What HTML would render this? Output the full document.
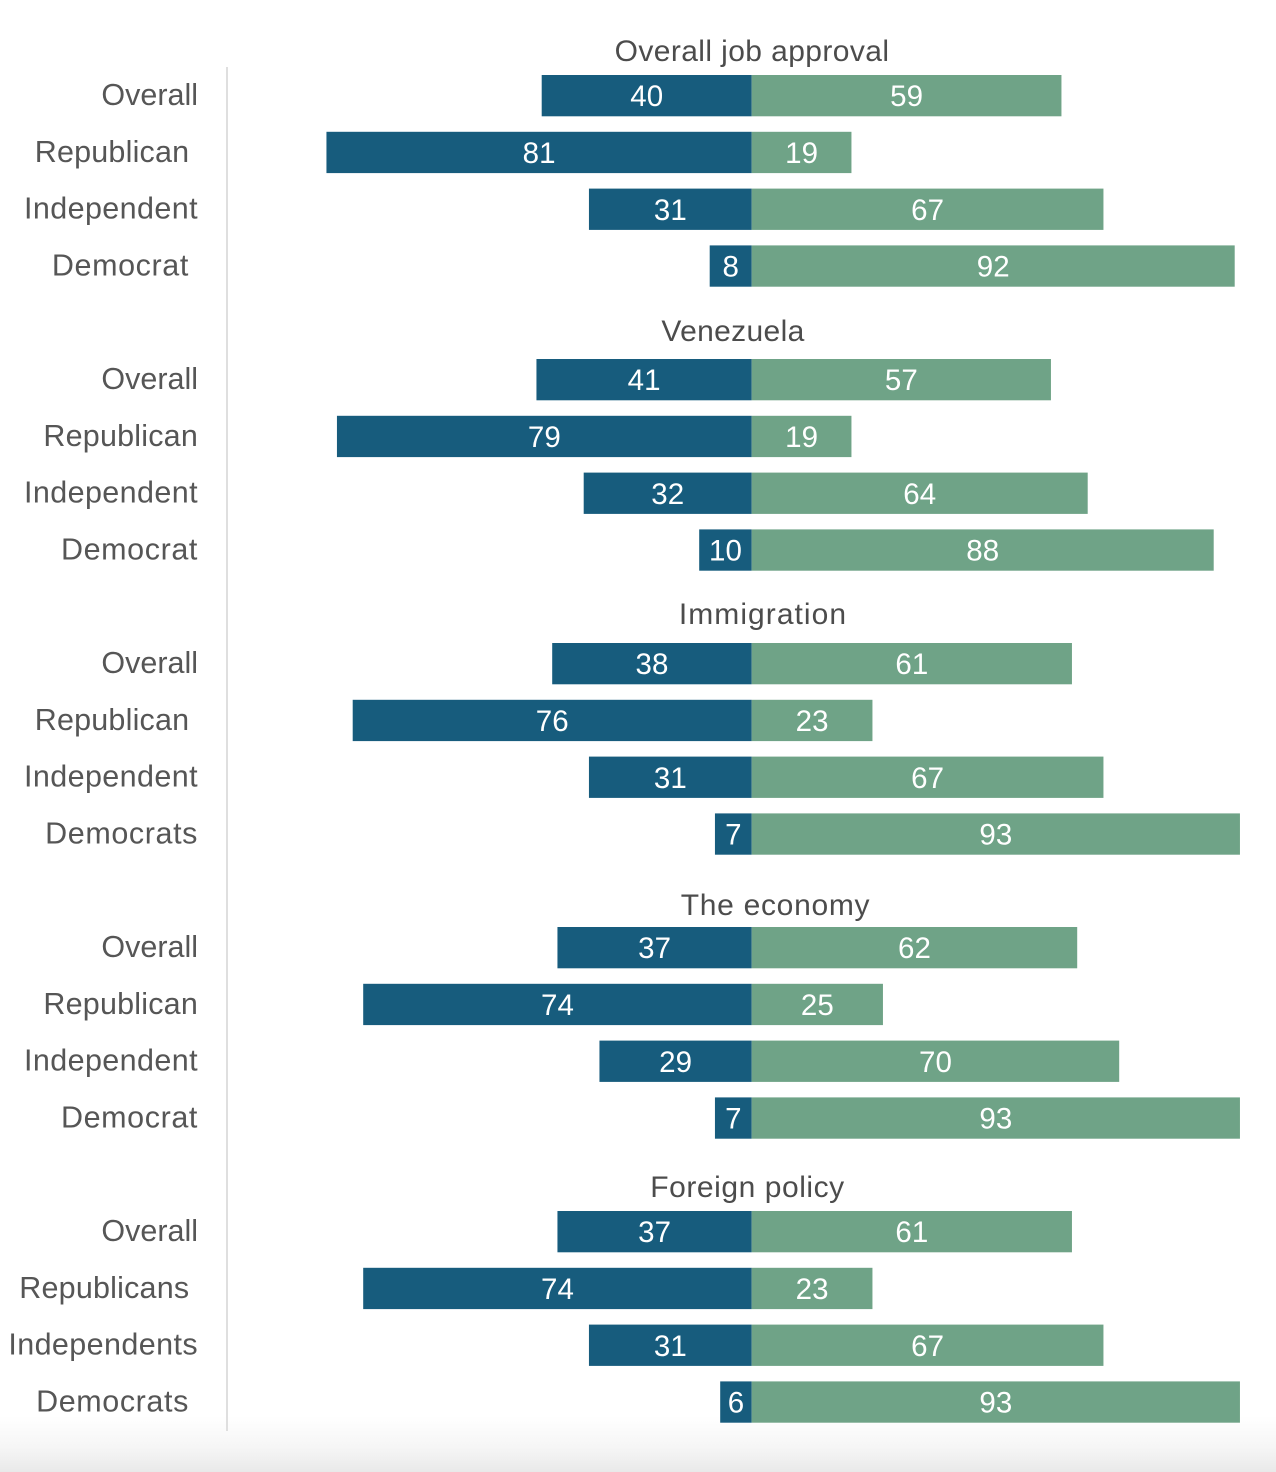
<!DOCTYPE html>
<html lang="en">
<head>
<meta charset="utf-8">
<title>Job approval by party</title>
<style>
  html, body { margin: 0; padding: 0; background: #fff; }
  #chart { display: block; font-family: "Liberation Sans", sans-serif; }
  .row-label { font-size: 30.5px; fill: #565656; text-anchor: end; white-space: pre; }
  .row-overall { letter-spacing: 0; }
  .row-republican { letter-spacing: 0.2px; }
  .row-independent { letter-spacing: 0.4px; }
  .row-democrat { letter-spacing: 0.6px; }
  .group-title { font-size: 30px; fill: #4c4c4c; text-anchor: middle; }
  .value-label { font-size: 29.5px; fill: #fff; text-anchor: middle; }
</style>
</head>
<body>
<svg id="chart" width="1276" height="1472" viewBox="0 0 1276 1472" xmlns="http://www.w3.org/2000/svg">
  <defs>
    <linearGradient id="fade" x1="0" y1="0" x2="0" y2="1">
      <stop offset="0" stop-color="#ffffff"/>
      <stop offset="0.55" stop-color="#f6f6f6"/>
      <stop offset="1" stop-color="#e9e9e9"/>
    </linearGradient>
  </defs>
  <rect x="0" y="0" width="1276" height="1472" fill="#ffffff"/>
  <rect x="0" y="1416" width="1276" height="56" fill="url(#fade)"/>
  <rect x="226" y="67" width="2" height="1364" fill="#dfdfdf"/>
  <g id="bars"></g>
  <g id="labels"></g>
  <g id="values"></g>
  <g>
    <text class="group-title" style="letter-spacing:0.4px" x="752" y="61">Overall job approval</text>
    <text class="group-title" style="letter-spacing:0.35px" x="733" y="341">Venezuela</text>
    <text class="group-title" style="letter-spacing:1.05px" x="763" y="624">Immigration</text>
    <text class="group-title" style="letter-spacing:0.7px" x="775.5" y="915">The economy</text>
    <text class="group-title" style="letter-spacing:0.55px" x="747.5" y="1197">Foreign policy</text>
  </g>
</svg>
<script>
// Chart data (percent). Trailing spaces in labels are as in the source chart.
const rowLabels = [
  ["Overall", "Republican ", "Independent", "Democrat "],
  ["Overall", "Republican", "Independent", "Democrat"],
  ["Overall", "Republican ", "Independent", "Democrats"],
  ["Overall", "Republican", "Independent", "Democrat"],
  ["Overall", "Republicans ", "Independents", "Democrats "]
];
const approve = [
  [40, 81, 31, 8],
  [41, 79, 32, 10],
  [38, 76, 31, 7],
  [37, 74, 29, 7],
  [37, 74, 31, 6]
];
const disapprove = [
  [59, 19, 67, 92],
  [57, 19, 64, 88],
  [61, 23, 67, 93],
  [62, 25, 70, 93],
  [61, 23, 67, 93]
];

// Axis functions
const zeroX = 751.7;
const unitX = 5.25;
const barHeight = 41.3;
function xScale(v) { return zeroX + unitX * v; }
function yScale(g, r) { return 75 + 284 * g + 56.8 * r; }

const NS = "http://www.w3.org/2000/svg";
const barsLayer = document.getElementById("bars");
const labelsLayer = document.getElementById("labels");
const valuesLayer = document.getElementById("values");

function addBar(g, r, x0, x1, fill, name) {
  const el = document.createElementNS(NS, "rect");
  
  
  el.setAttribute("x", Math.min(x0, x1));
  el.setAttribute("y", yScale(g, r));
  el.setAttribute("width", Math.abs(x1 - x0));
  el.setAttribute("height", barHeight);
  el.setAttribute("fill", fill);
  barsLayer.appendChild(el);
}

function addValue(g, r, x0, x1, v) {
  const el = document.createElementNS(NS, "text");
  
  
  el.setAttribute("class", "value-label");
  el.setAttribute("x", (x0 + x1) / 2);
  el.setAttribute("y", yScale(g, r) + barHeight / 2 + 10.5);
  el.textContent = v;
  valuesLayer.appendChild(el);
}

function labelClass(label) {
  if (label.startsWith("Republican")) return "row-label row-republican";
  if (label.startsWith("Independent")) return "row-label row-independent";
  if (label.startsWith("Democrat")) return "row-label row-democrat";
  return "row-label row-overall";
}

rowLabels.forEach(function (rows, g) {
  rows.forEach(function (label, r) {
    const t = document.createElementNS(NS, "text");
    
    
    t.setAttribute("class", labelClass(label));
    t.setAttribute("x", 198);
    t.setAttribute("y", yScale(g, r) + 20.5 + 9.5);
    t.textContent = label;
    labelsLayer.appendChild(t);

    const a = approve[g][r];
    const d = disapprove[g][r];
    addBar(g, r, xScale(-a), xScale(0), "#175c7d", "bar-approve");
    addBar(g, r, xScale(0), xScale(d), "#6fa387", "bar-disapprove");
    addValue(g, r, xScale(-a), xScale(0), a);
    addValue(g, r, xScale(0), xScale(d), d);
  });
});
</script>
</body>
</html>
